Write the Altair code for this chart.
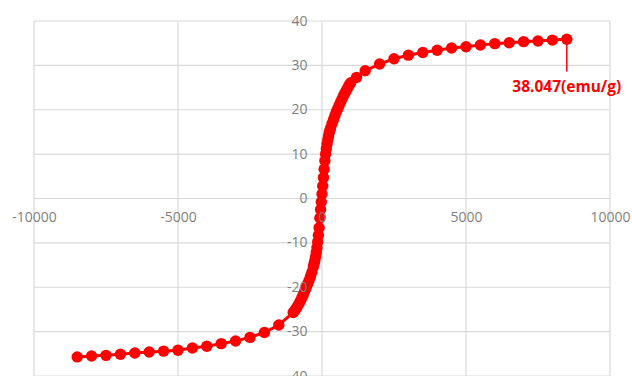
import altair as alt
import pandas as pd

# Applied field (Oe) and magnetisation (emu/g) of the hysteresis loop
field = [
    -8500, -8000, -7500, -7000, -6500, -6000, -5500, -5000, -4500, -4000,
    -3500, -3000, -2500, -2000, -1500,
    -1000, -950, -900, -850, -800, -750, -700, -650, -600, -550,
    -500, -450, -400, -350, -300, -275, -250, -225, -200, -175,
    -150, -125, -100, -75, -50, -25, 0, 25, 50, 75,
    100, 125, 150, 175, 200, 225, 250, 275, 300, 350,
    400, 450, 500, 550, 600, 650, 700, 750, 800, 850,
    900, 950, 1000,
    1200, 1500, 2000, 2500, 3000, 3500, 4000, 4500, 5000, 5500,
    6000, 6500, 7000, 7500, 8000, 8500,
]
moment = [
    -35.7, -35.5, -35.35, -35.1, -34.8, -34.6, -34.4, -34.2, -33.7, -33.3,
    -32.7, -32.1, -31.3, -30.2, -28.5,
    -25.7, -25.3, -24.8, -24.3, -23.7, -23.1, -22.4, -21.7, -20.9, -20.1,
    -19.3, -18.5, -17.6, -16.6, -15.4, -14.7, -14.0, -13.2, -12.2, -11.1,
    -9.8, -8.3, -6.6, -4.4, -2.5, -0.8, 1.0, 2.8, 4.7, 6.6,
    8.5, 10.0, 11.2, 12.3, 13.2, 14.0, 14.8, 15.4, 15.9, 16.9,
    17.8, 18.7, 19.6, 20.3, 21.0, 21.8, 22.5, 23.2, 23.8, 24.4,
    25.0, 25.6, 26.1,
    27.3, 28.8, 30.3, 31.5, 32.3, 32.9, 33.4, 33.9, 34.2, 34.6,
    34.9, 35.1, 35.35, 35.5, 35.7, 35.9,
]

x_ticks = [-10000, -5000, 0, 5000, 10000]
y_ticks = [-40, -30, -20, -10, 0, 10, 20, 30, 40]

# Saturation callout attached to the last measured point
callout_text = ["38.047(emu/g)"]
callout_text_y = [25.2]
callout_leader_end = [28.6]

W, H = 576, 355
RED = "#ff0000"
GRID = "#d9d9d9"
LABEL = "#7f7f7f"
FONT = "Open Sans"

x_scale = alt.Scale(domain=[-10000, 10000], nice=False, zero=False)
y_scale = alt.Scale(domain=[-40, 40], nice=False, zero=False)

# Axes cross at the origin; the same axis spec is shared by every layer
x_axis = alt.Axis(
    values=x_ticks, grid=False, domain=False, ticks=False,
    labelPadding=12, offset=-H / 2, labelColor=LABEL, labelFontSize=14,
    labelFont=FONT, zindex=1, labelFlush=False, labelOverlap=False,
    labelExpr="'' + datum.value",
)
y_axis = alt.Axis(
    values=y_ticks, grid=False, domain=False, ticks=False,
    labelPadding=15, offset=-W / 2, labelColor=LABEL, labelFontSize=14,
    labelFont=FONT, zindex=1, labelFlush=False, labelOverlap=False,
    labelExpr="'' + datum.value",
)


def xenc(name):
    return alt.X(name, scale=x_scale, axis=x_axis, title=None)


def yenc(name):
    return alt.Y(name, scale=y_scale, axis=y_axis, title=None)


loop = pd.DataFrame({"H": field, "M": moment, "i": list(range(len(field)))})

grid_v = alt.Chart(pd.DataFrame({"H": x_ticks})).mark_rule(
    color=GRID, strokeWidth=1.2
).encode(x=xenc("H:Q"))

grid_h = alt.Chart(pd.DataFrame({"M": y_ticks})).mark_rule(
    color=GRID, strokeWidth=1.2
).encode(y=yenc("M:Q"))

base = alt.Chart(loop).encode(x=xenc("H:Q"), y=yenc("M:Q"), order="i:Q")
curve = base.mark_line(color=RED, strokeWidth=3)
markers = base.mark_circle(color=RED, size=130, opacity=1)

last = pd.DataFrame({
    "H": [field[-1]], "M": [moment[-1]],
    "end": callout_leader_end, "ty": callout_text_y, "txt": callout_text,
})
leader = alt.Chart(last).mark_rule(color=RED, strokeWidth=1.5).encode(
    x=xenc("H:Q"), y=yenc("M:Q"), y2="end:Q",
)
callout = alt.Chart(last).mark_text(
    color=RED, font=FONT, fontSize=15.5, fontWeight="bold",
    align="center", baseline="middle",
).encode(x=xenc("H:Q"), y=yenc("ty:Q"), text="txt:N")

chart = alt.layer(grid_v, grid_h, curve, markers, leader, callout).properties(
    width=W,
    height=H,
    autosize=alt.AutoSizeParams(type="none"),
    padding={"left": 34, "top": 21, "right": 22, "bottom": 0},
    background="white",
).configure_view(stroke=None)

chart.save("out.html", embed_options={"renderer": "svg", "actions": False})
